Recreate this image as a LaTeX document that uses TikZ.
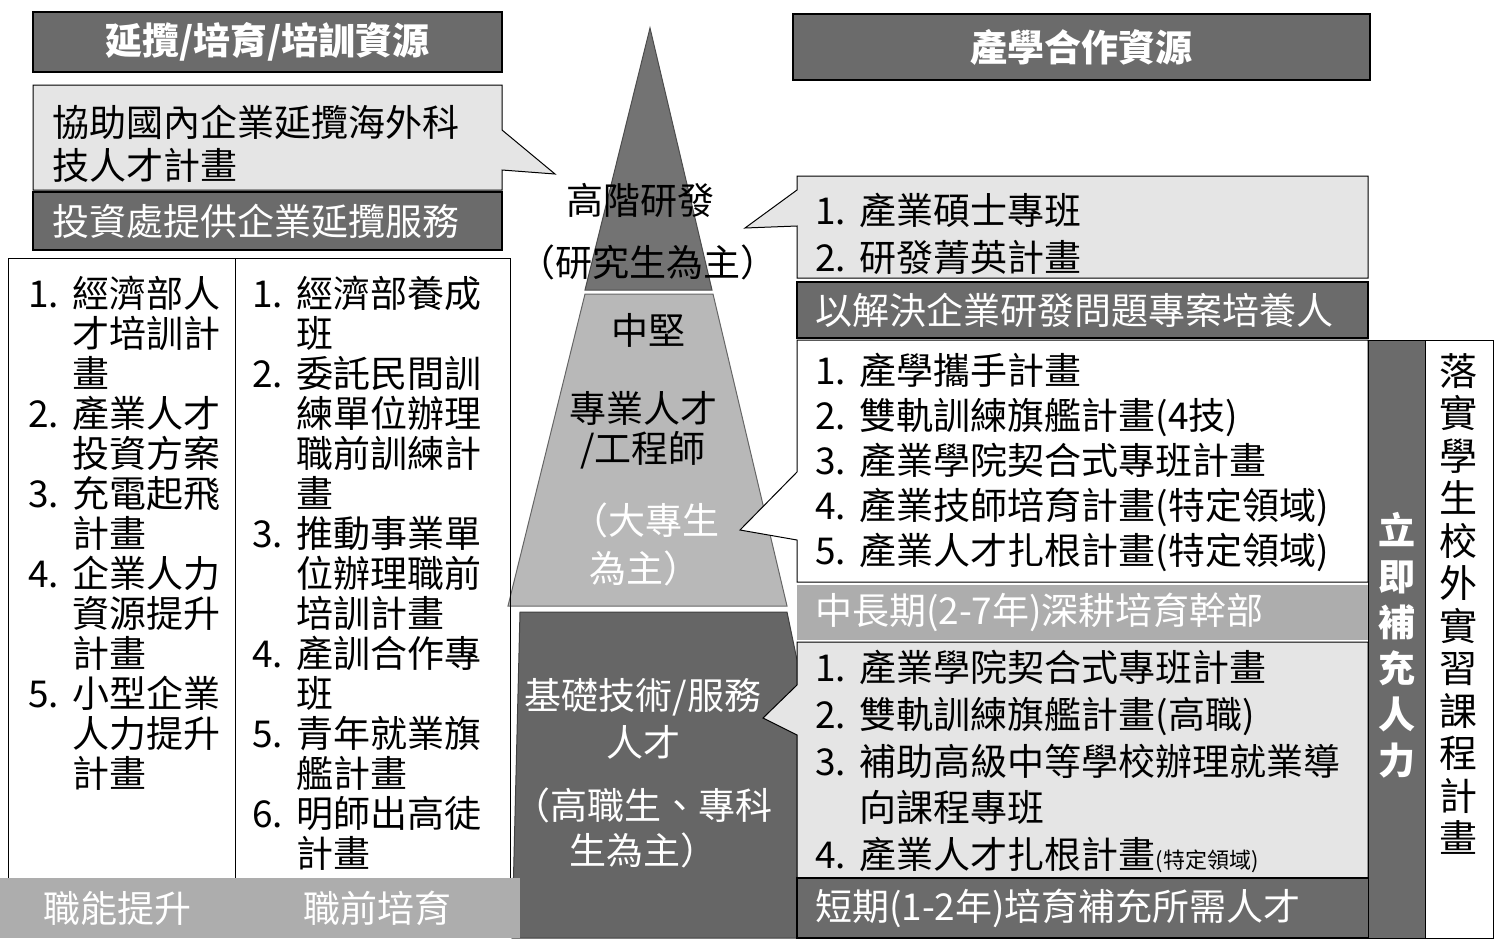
\documentclass[tikz,border=0pt]{standalone}
\usepackage{fontspec}
\setmainfont{Noto Sans CJK TC}
\newcommand\itm[1]{\makebox[1.2em][l]{#1}}
\newcommand\cnt{\hspace*{1.2em}}

\begin{document}
\begin{tikzpicture}[x=0.5pt,y=-0.5pt,
    darkbar/.style={draw=black,line width=1pt,fill=black!58,text=white,inner sep=0pt,font=\bfseries\fontsize{18.5}{22}\selectfont},
    lightbar/.style={fill=black!32,text=white,inner sep=0pt,font=\fontsize{18.5}{22}\selectfont},
    callout/.style={draw=black,line width=0.5pt,fill=black!10},
    plainbox/.style={draw=black,line width=0.5pt,fill=white},
    listtext/.style={anchor=west,align=left,inner sep=0pt},
    tiertext/.style={inner sep=0pt,font=\fontsize{18.5}{22}\selectfont}]
    \useasboundingbox (0,0) rectangle (1499,938);

    \filldraw[fill=black!55,draw=black!70,line width=0.5pt] (650,28) -- (712,290) -- (585,290) -- cycle;
    \filldraw[fill=black!28,draw=black!60,line width=0.5pt] (585,294) -- (713,294) -- (787,606) -- (508,606) -- cycle;
    \filldraw[fill=black!60,draw=black!75,line width=0.5pt] (520,612) -- (787,612) -- (797,660) -- (797,938) -- (512,938) -- cycle;

    \node[darkbar,minimum width=234.5pt,minimum height=30pt] (lhead) at (267.5,42) {延攬/培育/培訓資源};
    \filldraw[callout] (33,85) -- (502,85) -- (502,130) -- (555,174) -- (502,170) -- (502,190) -- (33,190) -- cycle;
    \node[listtext,font=\fontsize{18.5}{21.5}\selectfont] (lhire) at (52,143.5) {協助國內企業延攬海外科\\技人才計畫};
    \node[darkbar,font=\fontsize{18.5}{22}\selectfont,minimum width=234.5pt,minimum height=29pt,text width=215pt,inner xsep=9.75pt,align=left] (linvest) at (267.5,221) {投資處提供企業延攬服務};

    \draw[line width=0.5pt] (8,258) rectangle (510,878);
    \draw[line width=0.5pt] (235,258) -- (235,878);
    \node[listtext,font=\fontsize{18.5}{20}\selectfont] (lskill) at (28,533) {\itm{1.}經濟部人\\ \cnt 才培訓計\\ \cnt 畫\\ \itm{2.}產業人才\\ \cnt 投資方案\\ \itm{3.}充電起飛\\ \cnt 計畫\\ \itm{4.}企業人力\\ \cnt 資源提升\\ \cnt 計畫\\ \itm{5.}小型企業\\ \cnt 人力提升\\ \cnt 計畫};
    \node[listtext,font=\fontsize{18.5}{20}\selectfont] (lpre) at (252,573) {\itm{1.}經濟部養成\\ \cnt 班\\ \itm{2.}委託民間訓\\ \cnt 練單位辦理\\ \cnt 職前訓練計\\ \cnt 畫\\ \itm{3.}推動事業單\\ \cnt 位辦理職前\\ \cnt 培訓計畫\\ \itm{4.}產訓合作專\\ \cnt 班\\ \itm{5.}青年就業旗\\ \cnt 艦計畫\\ \itm{6.}明師出高徒\\ \cnt 計畫};
    \node[lightbar,minimum width=117.5pt,minimum height=30pt] (lskillbar) at (117.5,908) {職能提升};
    \node[lightbar,minimum width=142.5pt,minimum height=30pt] (lprebar) at (377.5,908) {職前培育};

    \node[tiertext] (tophigh) at (640,200) {高階研發};
    \node[tiertext] (topgrad) at (648,262) {（研究生為主）};
    \node[tiertext] (midcore) at (648,330) {中堅};
    \node[tiertext] (midpro) at (643,408) {專業人才};
    \node[tiertext] (mideng) at (643,450) {/工程師};
    \node[tiertext,text=white] (midcol) at (645,520) {（大專生};
    \node[tiertext,text=white] (midmain) at (645,568) {為主）};
    \node[tiertext,text=white] (basetech) at (643,697) {基礎技術/服務};
    \node[tiertext,text=white] (basetal) at (643,742) {人才};
    \node[tiertext,text=white] (basevoc) at (643,805) {（高職生、專科};
    \node[tiertext,text=white] (basemain) at (643,850) {生為主）};

    \node[darkbar,minimum width=288.5pt,minimum height=33pt] (rhead) at (1081.5,47) {產學合作資源};
    \filldraw[callout] (797,176) -- (1368,176) -- (1368,278) -- (797,278) -- (797,226) -- (745,228) -- (797,190) -- cycle;
    \node[listtext,font=\fontsize{18.5}{23.5}\selectfont] (rmaster) at (815,233.5) {\itm{1.}產業碩士專班\\ \itm{2.}研發菁英計畫};
    \node[darkbar,font=\fontsize{18.5}{22}\selectfont,minimum width=285.5pt,minimum height=28pt,text width=267.5pt,inner xsep=9pt,align=left] (rproject) at (1082.5,310) {以解決企業研發問題專案培養人};
    \filldraw[plainbox] (797,340) -- (1368,340) -- (1368,582) -- (797,582) -- (797,540) -- (740,530) -- (797,472) -- cycle;
    \node[listtext,font=\fontsize{18.5}{22.5}\selectfont] (rlong) at (815,462) {\itm{1.}產學攜手計畫\\ \itm{2.}雙軌訓練旗艦計畫(4技)\\ \itm{3.}產業學院契合式專班計畫\\ \itm{4.}產業技師培育計畫(特定領域)\\ \itm{5.}產業人才扎根計畫(特定領域)};
    \node[lightbar,minimum width=285.5pt,minimum height=27.5pt,text width=267.5pt,inner xsep=9pt,align=left] (rlongbar) at (1082.5,612.5) {中長期(2-7年)深耕培育幹部};
    \filldraw[callout] (797,642) -- (1368,642) -- (1368,878) -- (797,878) -- (797,735) -- (763,718) -- (797,685) -- cycle;
    \node[listtext,font=\fontsize{18.5}{23.4}\selectfont] (rshort) at (815,761.5) {\itm{1.}產業學院契合式專班計畫\\ \itm{2.}雙軌訓練旗艦計畫(高職)\\ \itm{3.}補助高級中等學校辦理就業導\\ \cnt 向課程專班\\ \itm{4.}產業人才扎根計畫{\fontsize{11}{12}\selectfont(特定領域)}};
    \node[darkbar,font=\fontsize{18.5}{22}\selectfont,minimum width=314pt,minimum height=30pt,text width=296pt,inner xsep=9pt,align=left] (rshortbar) at (1111,908) {短期(1-2年)培育補充所需人才};

    \filldraw[fill=black!58,draw=black,line width=0.5pt] (1368,340) rectangle (1425,938);
    \node[tiertext,text=white,align=center,font=\bfseries\fontsize{18.5}{23}\selectfont] (rinstant) at (1396.5,645) {立\\即\\補\\充\\人\\力};
    \filldraw[plainbox] (1425,340) rectangle (1493,938);
    \node[tiertext,align=center,font=\fontsize{19}{21.25}\selectfont] (rintern) at (1458,604) {落\\實\\學\\生\\校\\外\\實\\習\\課\\程\\計\\畫};
\end{tikzpicture}
\end{document}
